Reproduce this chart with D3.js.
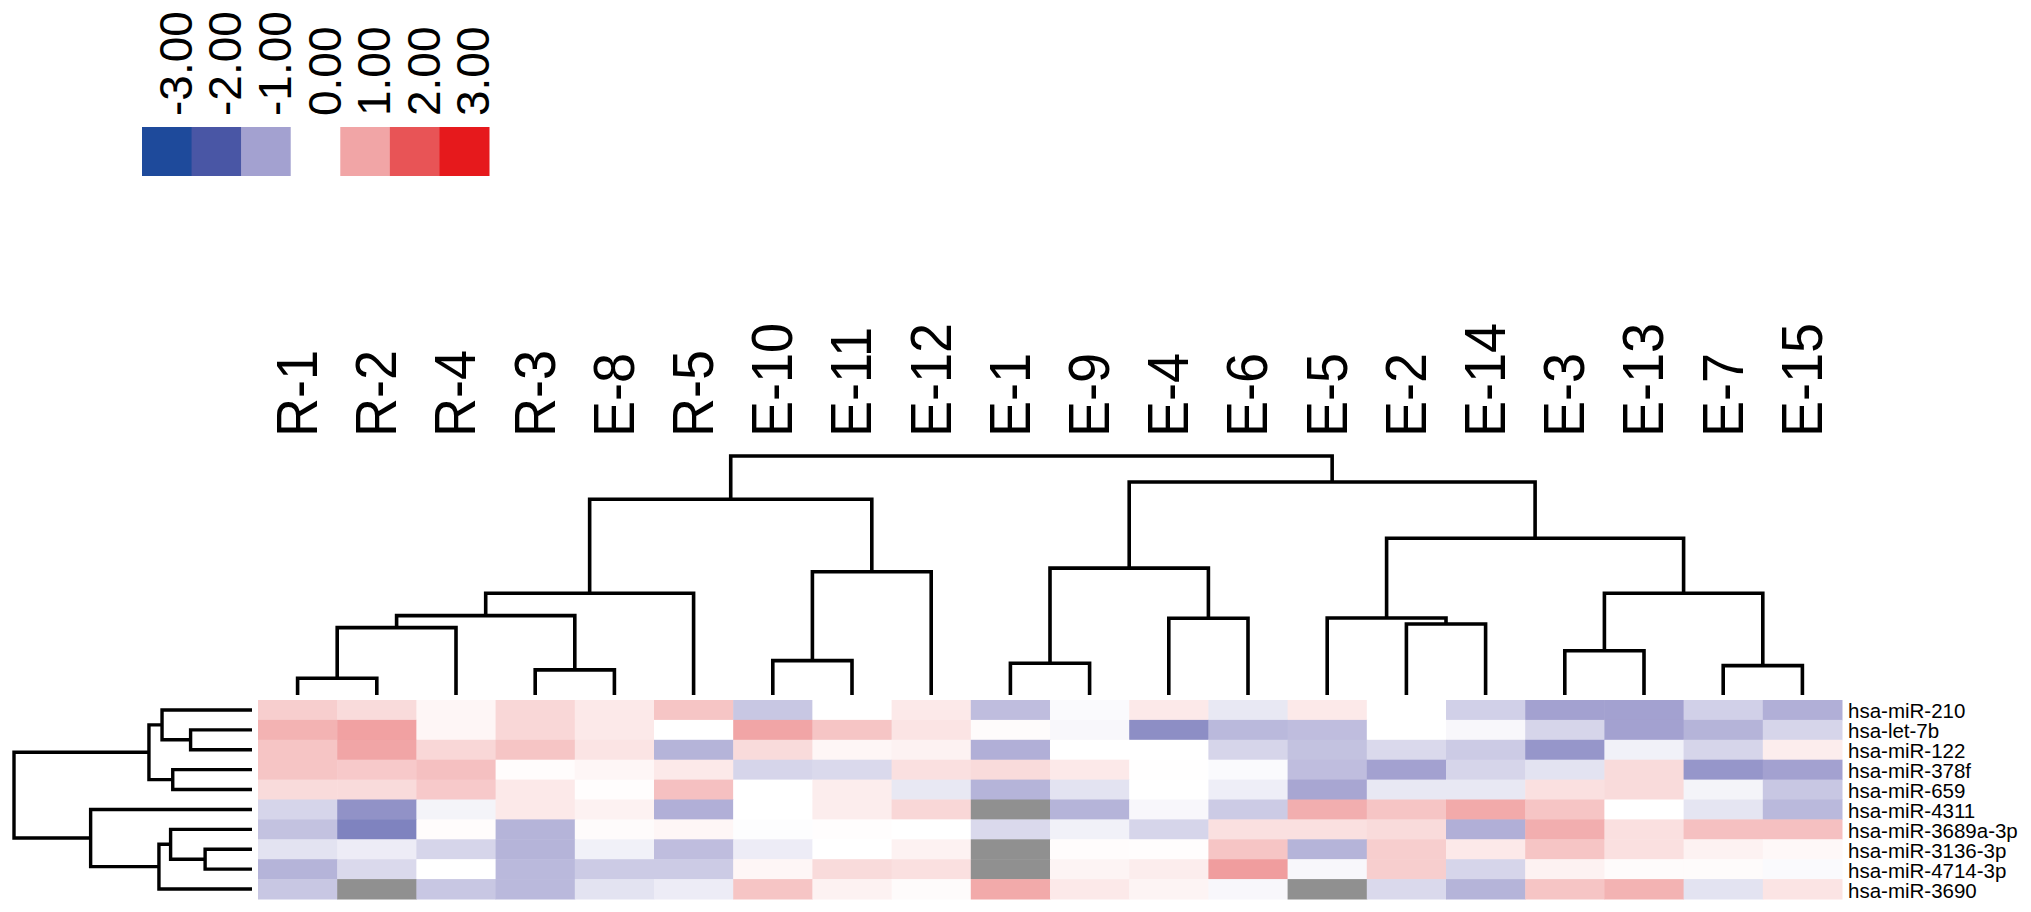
<!DOCTYPE html>
<html><head><meta charset="utf-8">
<script src="https://cdn.jsdelivr.net/npm/d3@7/dist/d3.min.js"></script>
<style>body{margin:0;background:#fff}svg{display:block}</style>
</head><body><svg id="c" width="2031" height="912"></svg>
<script>
// ---------- data ----------
const columns = ["R-1","R-2","R-4","R-3","E-8","R-5","E-10","E-11","E-12","E-1","E-9","E-4","E-6","E-5","E-2","E-14","E-3","E-13","E-7","E-15"];
const rows = ["hsa-miR-210","hsa-let-7b","hsa-miR-122","hsa-miR-378f","hsa-miR-659","hsa-miR-4311","hsa-miR-3689a-3p","hsa-miR-3136-3p","hsa-miR-4714-3p","hsa-miR-3690"];
// one array per row, values in column order; null = missing (grey)
const miR210    = [0.55,0.4,0.1,0.45,0.25,0.65,-0.6,0,0.25,-0.7,-0.05,0.25,-0.25,0.25,0,-0.5,-1.0,-1.0,-0.5,-0.85];
const let7b     = [0.85,1.05,0.1,0.45,0.25,0,1.0,0.65,0.3,0.05,-0.08,-1.25,-0.75,-0.7,0,-0.08,-0.45,-1.0,-0.8,-0.45];
const miR122    = [0.65,1.0,0.45,0.65,0.3,-0.8,0.4,0.1,0.15,-0.85,0,0,-0.45,-0.65,-0.4,-0.55,-1.15,-0.15,-0.45,0.2];
const miR378f   = [0.65,0.6,0.7,0.03,0.1,0.25,-0.45,-0.4,0.35,0.4,0.25,0.01,-0.05,-0.7,-1.0,-0.45,-0.3,0.4,-1.15,-1.0];
const miR659    = [0.4,0.4,0.6,0.25,0.02,0.7,0,0.2,-0.25,-0.8,-0.3,0,-0.18,-0.95,-0.25,-0.25,0.35,0.4,-0.12,-0.6];
const miR4311   = [-0.45,-1.2,-0.12,0.25,0.15,-0.85,0,0.2,0.45,null,-0.8,-0.08,-0.55,0.9,0.65,0.95,0.65,0,-0.28,-0.75];
const miR3689a  = [-0.65,-1.4,0.03,-0.8,0.05,0.1,-0.02,0.02,0,-0.4,-0.15,-0.45,0.35,0.35,0.4,-0.85,0.9,0.35,0.7,0.7];
const miR3136   = [-0.3,-0.2,-0.45,-0.8,-0.15,-0.7,-0.2,0,0.15,null,0.03,0.02,0.65,-0.8,0.55,0.25,0.65,0.35,0.15,0.08];
const miR4714   = [-0.8,-0.4,0,-0.75,-0.55,-0.55,0.1,0.4,0.35,null,0.12,0.2,1.1,-0.08,0.55,-0.45,0.15,0.05,0.05,-0.05];
const miR3690   = [-0.6,null,-0.6,-0.75,-0.3,-0.2,0.65,0.15,0.05,0.95,0.25,0.12,-0.08,null,-0.4,-0.8,0.65,0.85,-0.3,0.3];
const values = [miR210,let7b,miR122,miR378f,miR659,miR4311,miR3689a,miR3136,miR4714,miR3690];

const legendValues = [-3,-2,-1,0,1,2,3];
const legendLabels = ["-3.00","-2.00","-1.00","0.00","1.00","2.00","3.00"];
const colorStops = ["#1e4a9b","#4956a5","#a3a1d0","#ffffff","#f1a5a6","#e85456","#e6191c"];
const missingColor = "#909090";

// hierarchical clustering merges: [left, right, height]; numbers refer to earlier merges
const colMerges = [
  ["R-1","R-2",0.70],[0,"R-4",2.82],["R-3","E-8",1.05],[1,2,3.32],[3,"R-5",4.26],
  ["E-10","E-11",1.44],[5,"E-12",5.16],[4,6,8.19],
  ["E-1","E-9",1.33],["E-4","E-6",3.21],[8,9,5.31],
  ["E-2","E-14",2.97],["E-5",11,3.22],["E-3","E-13",1.85],["E-7","E-15",1.23],[13,14,4.26],
  [12,15,6.56],[10,16,8.91],[7,17,10]
];
const rowMerges = [
  ["hsa-let-7b","hsa-miR-122",2.58],["hsa-miR-210",0,3.78],["hsa-miR-378f","hsa-miR-659",3.33],[1,2,4.33],
  ["hsa-miR-3136-3p","hsa-miR-4714-3p",1.97],["hsa-miR-3689a-3p",4,3.42],[5,"hsa-miR-3690",3.91],
  ["hsa-miR-4311",6,6.78],[3,7,10]
];

// ---------- drawing ----------
const FONT = "'Liberation Sans', Arial, sans-serif";
const svg = d3.select("#c");
const x = d3.scaleBand().domain(columns).range([258,1842]);
const y = d3.scaleBand().domain(rows).range([700,899]);
const color = d3.scaleLinear().domain(legendValues).range(colorStops).interpolate(d3.interpolateRgb).clamp(true);

// heatmap cells
const cells = [];
rows.forEach((r,i)=>columns.forEach((c,j)=>cells.push({r,c,v:values[i][j]})));
svg.append("g").selectAll("rect").data(cells).join("rect")
  .attr("x",d=>x(d.c)).attr("y",d=>y(d.r))
  .attr("width",x.bandwidth()+0.5).attr("height",y.bandwidth()+0.5)
  .attr("fill",d=>d.v==null?missingColor:color(d.v));

// build hierarchy from merges
function buildTree(merges){
  const toNode = ref => typeof ref === "number" ? nodes[ref] : {name:ref, h:0};
  const nodes = [];
  merges.forEach(([a,b,h])=>nodes.push({h, children:[toNode(a),toNode(b)]}));
  return d3.hierarchy(nodes[nodes.length-1]);
}
function dendroPaths(root, posScale, hScale, horizontal){
  const bw = posScale.bandwidth()/2;
  root.eachAfter(n=>{ n.p = n.children ? d3.mean(n.children,c=>c.p) : posScale(n.data.name)+bw; });
  const paths = [];
  root.each(n=>{
    if(!n.children) return;
    const [a,b] = n.children;
    const hn = hScale(n.data.h), ha = hScale(a.data.h), hb = hScale(b.data.h);
    if(!horizontal) paths.push(`M${a.p},${ha}V${hn}H${b.p}V${hb}`);
    else paths.push(`M${ha},${a.p}H${hn}V${b.p}H${hb}`);
  });
  return paths;
}
const colTree = buildTree(colMerges);
const colH = d3.scaleLinear().domain([0,10]).range([695,456]);
svg.append("g").selectAll("path").data(dendroPaths(colTree,x,colH,false)).join("path")
  .attr("d",d=>d).attr("fill","none").attr("stroke","#000").attr("stroke-width",3.6);

const rowTree = buildTree(rowMerges);
const rowH = d3.scaleLinear().domain([0,10]).range([252,14]);
svg.append("g").selectAll("path").data(dendroPaths(rowTree,y,rowH,true)).join("path")
  .attr("d",d=>d).attr("fill","none").attr("stroke","#000").attr("stroke-width",3.4);

// column labels
svg.append("g").selectAll("text").data(columns).join("text")
  .attr("transform",d=>`translate(${x(d)+x.bandwidth()/2},437) rotate(-90) scale(1,1.05)`)
  .attr("dominant-baseline","central")
  .style("font-family",FONT).style("font-size","54px").attr("fill","#000")
  .text(d=>d);

// row labels
svg.append("g").selectAll("text").data(rows).join("text")
  .attr("x",1848).attr("y",d=>y(d)+y.bandwidth()/2+8.5)
  .style("font-family",FONT).style("font-size","20.5px").attr("fill","#000")
  .text(d=>d);

// legend
const lx = d3.scaleBand().domain(legendValues).range([142,489]);
const lg = svg.append("g");
lg.selectAll("rect").data(legendValues).join("rect")
  .attr("x",d=>lx(d)).attr("y",127).attr("width",lx.bandwidth()+0.5).attr("height",49)
  .attr("fill",d=>color(d));
lg.selectAll("text").data(legendValues).join("text")
  .attr("transform",(d,i)=>`translate(${lx(d)+lx.bandwidth()/2+9},116) rotate(-90)`)
  .attr("dominant-baseline","central")
  .style("font-family",FONT).style("font-size","46px").attr("fill","#000")
  .text((d,i)=>legendLabels[i]);
</script></body></html>
